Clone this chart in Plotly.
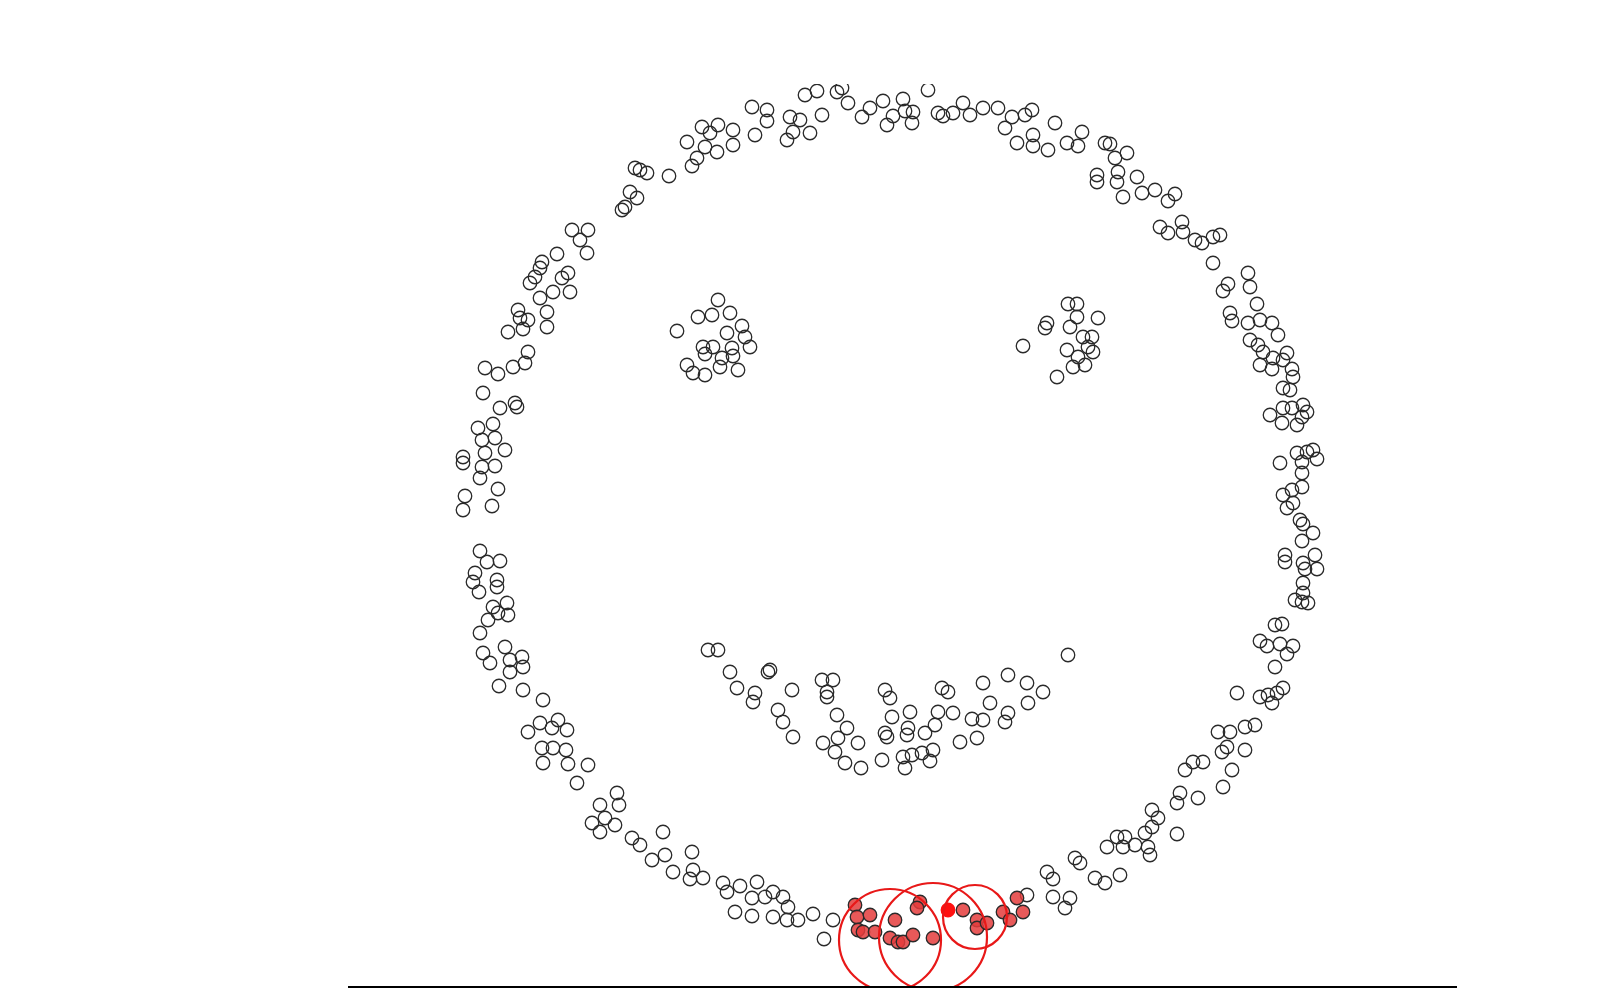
import plotly.graph_objects as go

# Coordinates (x to the right, y downward)
outline_top = [
    (485,368),(498,374),(513,367),(525,363),(528,352),(508,332),(523,329),(520,318),(518,310),(528,320),
    (547,327),(547,312),(540,298),(553,292),(570,292),(562,278),(568,273),(530,283),(535,277),(540,268),
    (542,262),(557,254),(587,253),(580,240),(572,230),(588,230),(622,210),(625,207),(637,198),(630,192),
    (635,168),(640,170),(647,173),(669,176),(692,166),(697,158),(717,152),(705,147),(687,142),(733,145),
    (733,130),(710,133),(718,125),(702,127),(755,135),(752,107),(767,110),(767,121),(790,117),(800,120),
    (793,132),(787,140),(810,133),(822,115),(805,95),(817,91),(837,92),(842,88),(848,103),(862,117),
    (870,108),(883,101),(893,116),(887,125),(928,90),(903,99),(905,111),(913,112),(912,123),(938,113),
    (943,116),(953,113),(963,103),(970,115),(983,108),(998,108),(1012,117),(1025,115),(1032,110),(1005,128),
    (1055,123),(1017,143),(1033,135),(1033,146),(1048,150),(1067,143),(1078,146),(1082,132),(1105,143),(1110,144),
    (1127,153),(1115,158),(1097,175),(1097,182),(1118,172),(1117,182),(1137,177),(1123,197),(1142,193),(1155,190),
    (1175,194),(1168,201),(1182,222),(1160,227),(1168,233),(1183,232),(1195,240),(1202,243),(1213,237),(1220,235),
    (1213,263),(1248,273),(1250,287),(1228,284),(1223,291),(1257,304),(1230,313),(1232,321),(1248,323),(1260,320),
    (1272,323),(1278,335),(1250,340),(1258,345),(1263,352),(1273,358),(1287,353),(1260,365),(1272,369),(1292,369),
    (1293,377),(1283,360),
]
outline_right = [
    (1283,388),(1290,390),(1270,415),(1283,408),(1292,408),(1303,405),(1307,412),(1282,423),(1297,425),(1302,417),
    (1280,463),(1297,453),(1307,452),(1313,450),(1317,459),(1302,462),(1302,473),(1302,487),(1283,495),(1292,490),
    (1293,503),(1287,508),(1300,520),(1303,524),(1313,533),(1302,541),(1285,555),(1285,562),(1315,555),(1303,563),
    (1305,569),(1317,569),(1303,583),(1303,593),(1295,600),(1302,602),(1308,603),(1275,625),(1282,624),(1260,641),
    (1267,646),(1280,644),(1293,646),(1287,654),(1275,667),(1068,655),
]
outline_left = [
    (483,393),(500,408),(515,403),(517,407),(478,428),(493,424),(482,440),(495,438),(505,450),(485,453),
    (463,457),(463,463),(482,467),(495,466),(480,478),(498,489),(465,496),(492,506),(463,510),(480,551),
    (487,562),(500,561),(475,573),(473,582),(497,580),(497,587),(479,592),(493,607),(507,603),(498,613),
    (508,615),(488,620),(480,633),(483,653),(505,647),(490,663),(510,660),(522,657),(523,667),(510,672),
]
outline_bottom = [
    (499,686),(523,690),(543,700),(528,732),(540,723),(552,728),(558,720),(567,730),(542,748),(553,748),
    (566,750),(543,763),(568,764),(588,765),(577,783),(600,805),(617,793),(619,805),(592,823),(600,832),
    (605,818),(615,825),(632,838),(640,845),(663,832),(652,860),(665,855),(673,872),(692,852),(693,870),
    (690,879),(703,878),(723,883),(727,892),(740,886),(735,912),(757,882),(752,898),(765,897),(773,892),
    (783,897),(752,916),(773,917),(788,907),(787,920),(798,920),(813,914),(833,920),(824,939),
    (1237,693),(1260,697),(1268,695),(1277,693),(1283,688),(1272,703),(1218,732),(1230,732),(1245,727),(1255,725),
    (1227,747),(1222,752),(1245,750),(1232,770),(1223,787),(1185,770),(1193,762),(1203,762),(1198,798),(1180,793),
    (1177,803),(1152,810),(1158,818),(1152,827),(1145,833),(1148,847),(1150,855),(1177,834),(1117,837),(1125,837),
    (1107,847),(1123,847),(1135,845),(1075,858),(1080,863),(1047,872),(1053,879),(1095,878),(1105,883),(1120,875),
    (1053,897),(1070,898),(1065,908),(1027,895),
]
left_eye = [
    (718,300),(698,317),(712,315),(730,313),(677,331),(742,326),(727,333),(745,337),(750,347),(703,347),
    (713,347),(705,354),(732,348),(733,356),(722,358),(687,365),(720,367),(738,370),(705,375),(693,373),
]
right_eye = [
    (1068,304),(1077,304),(1077,317),(1047,323),(1045,328),(1070,327),(1098,318),(1023,346),(1083,337),(1092,337),
    (1067,350),(1088,347),(1093,352),(1078,357),(1073,367),(1085,365),(1057,377),
]
mouth = [
    (708,650),(718,650),(730,672),(737,688),(755,693),(753,702),(768,672),(770,670),(792,690),(778,710),
    (783,722),(793,737),(822,680),(833,680),(827,692),(827,697),(837,715),(847,728),(838,738),(823,743),
    (858,743),(835,752),(845,763),(861,768),(882,760),(885,690),(890,698),(892,717),(885,733),(887,737),
    (910,712),(908,728),(907,735),(925,733),(935,725),(938,712),(942,688),(948,692),(953,713),(972,719),
    (983,720),(960,742),(977,738),(983,683),(990,703),(1005,722),(1008,713),(1008,675),(1027,683),(1043,692),
    (1028,703),(903,757),(912,755),(922,753),(933,750),(930,761),(905,768),
]
cluster_red = [
    (855,905),(857,917),(870,915),(858,930),(863,932),(875,932),(895,920),(890,938),(898,942),(903,942),
    (913,935),(920,902),(917,908),(933,938),(963,910),(977,920),(977,928),(987,923),(1003,912),(1017,898),
    (1023,912),(1010,920),
]
highlight = [(948,910)]
circle_cx = [890, 933, 975]
circle_cy = [940, 937, 917]
circle_r = [51, 54, 32]

black_pts = outline_top + outline_right + outline_left + outline_bottom + left_eye + right_eye + mouth

fig = go.Figure()
fig.add_trace(go.Scatter(
    x=[p[0] for p in black_pts], y=[p[1] for p in black_pts], mode="markers",
    marker=dict(symbol="circle-open", size=13.5, color="#2a2a2a", line=dict(width=1.3, color="#2a2a2a")),
    hoverinfo="skip", showlegend=False))
fig.add_trace(go.Scatter(
    x=[p[0] for p in cluster_red], y=[p[1] for p in cluster_red], mode="markers",
    marker=dict(symbol="circle", size=13.5, color="rgba(228,60,60,0.85)", line=dict(width=1.3, color="#2a2a2a")),
    hoverinfo="skip", showlegend=False))
fig.add_trace(go.Scatter(
    x=[p[0] for p in highlight], y=[p[1] for p in highlight], mode="markers",
    marker=dict(symbol="circle", size=13.5, color="#ff1010", line=dict(width=1.3, color="#ff1010")),
    hoverinfo="skip", showlegend=False))

for cx, cy, r in zip(circle_cx, circle_cy, circle_r):
    fig.add_shape(type="circle", xref="x", yref="y", x0=cx - r, x1=cx + r, y0=cy - r, y1=cy + r,
                  line=dict(color="#e81818", width=2.2), layer="above")

fig.update_layout(
    width=1624, height=988,
    margin=dict(l=348, r=167, t=84, b=2),
    paper_bgcolor="white", plot_bgcolor="white",
    xaxis=dict(range=[348, 1457], showgrid=False, zeroline=False, showticklabels=False, ticks="",
               showline=True, linecolor="black", linewidth=2),
    yaxis=dict(range=[986, 84], showgrid=False, zeroline=False, showticklabels=False, ticks="",
               showline=False),
)
fig.write_html("out.html", config={"displayModeBar": False})
